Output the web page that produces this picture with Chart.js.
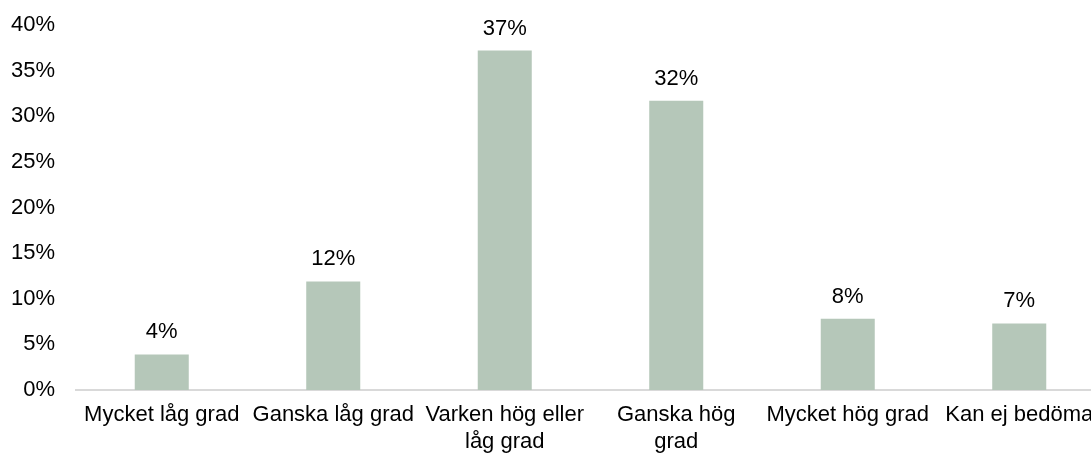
<!DOCTYPE html>
<html>
<head>
<meta charset="utf-8">
<script src="https://cdn.jsdelivr.net/npm/chart.js@4/dist/chart.umd.min.js"></script>
<style>
  html, body { margin: 0; padding: 0; background: #fff; overflow: hidden; }
  #wrap { position: relative; width: 1110px; height: 454px; }
</style>
</head>
<body>
<div id="wrap"><canvas id="c"></canvas></div>
<script>
const categories = [
  "Mycket låg grad",
  "Ganska låg grad",
  ["Varken hög eller", "låg grad"],
  ["Ganska hög", "grad"],
  "Mycket hög grad",
  "Kan ej bedöma"
];
const values = [3.9, 11.9, 37.2, 31.7, 7.8, 7.3];
const valueLabels = ["4%", "12%", "37%", "32%", "8%", "7%"];
const yTicks = [0, 5, 10, 15, 20, 25, 30, 35, 40];

const FONT = "'Liberation Sans', Arial, sans-serif";

const labelPlugin = {
  id: 'valueLabels',
  afterDatasetsDraw(chart) {
    const ctx = chart.ctx;
    const meta = chart.getDatasetMeta(0);
    ctx.save();
    ctx.font = "22px " + FONT;
    ctx.fillStyle = "#000";
    ctx.textAlign = "center";
    ctx.textBaseline = "alphabetic";
    meta.data.forEach((bar, i) => {
      ctx.fillText(valueLabels[i], bar.x, bar.y - 16);
    });
    ctx.restore();
  }
};

new Chart(document.getElementById('c'), {
  type: 'bar',
  data: {
    labels: categories,
    datasets: [{
      data: values,
      backgroundColor: '#b5c7b9',
      borderWidth: 0,
      categoryPercentage: 1.0,
      barPercentage: 0.315
    }]
  },
  options: {
    responsive: true,
    maintainAspectRatio: false,
    animation: false,
    layout: { padding: { top: 25, right: 5, left: 11, bottom: 0 } },
    plugins: { legend: { display: false }, tooltip: { enabled: false } },
    scales: {
      x: {
        grid: { display: false, drawTicks: false },
        border: { display: true, color: '#d9d9d9', width: 2 },
        ticks: {
          color: '#000',
          font: { family: FONT, size: 22, lineHeight: 1.2 },
          padding: 12,
          maxRotation: 0,
          minRotation: 0,
          autoSkip: false
        },
        afterFit(scale) {
          scale.paddingLeft = 0;
          scale.paddingRight = 0;
          scale.height = 64;
        }
      },
      y: {
        min: 0,
        max: 40,
        afterBuildTicks(axis) { axis.ticks = yTicks.map(v => ({ value: v })); },
        grid: { display: false, drawTicks: false },
        border: { display: false },
        ticks: {
          color: '#000',
          font: { family: FONT, size: 22 },
          padding: 21,
          callback: v => v + '%'
        },
        afterFit(scale) {
          scale.paddingTop = 0;
          scale.paddingBottom = 0;
          scale.width = 65;
        }
      }
    }
  },
  plugins: [labelPlugin]
});
</script>
</body>
</html>
